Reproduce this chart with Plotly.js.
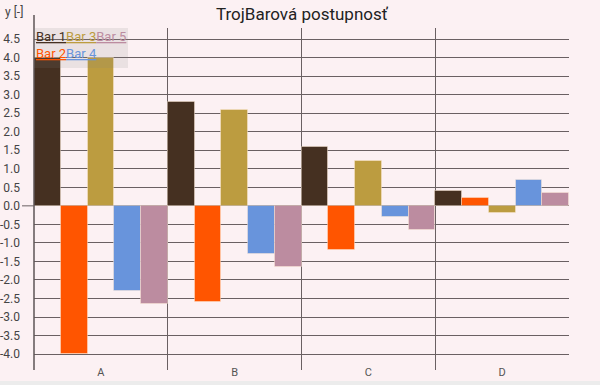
<!DOCTYPE html>
<html>
<head>
<meta charset="utf-8">
<script src="https://cdn.plot.ly/plotly-3.0.1.min.js"></script>
<style>
  html, body { margin: 0; padding: 0; background: #ececec; }
  #chart { width: 600px; height: 381px; }
</style>
</head>
<body>
<div id="chart"></div>
<script>
// ---- data ----
const categories = ["A", "B", "C", "D"];
const seriesNames = ["Bar 1", "Bar 2", "Bar 3", "Bar 4", "Bar 5"];
const bar1 = [4.0, 2.8, 1.6, 0.4];
const bar2 = [-4.0, -2.6, -1.2, 0.2];
const bar3 = [4.0, 2.6, 1.2, -0.2];
const bar4 = [-2.3, -1.3, -0.3, 0.7];
const bar5 = [-2.65, -1.65, -0.65, 0.35];
const yTickVals = [-4.0, -3.5, -3.0, -2.5, -2.0, -1.5, -1.0, -0.5, 0.0, 0.5, 1.0, 1.5, 2.0, 2.5, 3.0, 3.5, 4.0, 4.5];
const yTickText = ["-4.0", "-3.5", "-3.0", "-2.5", "-2.0", "-1.5", "-1.0", "-0.5", "0.0", "0.5", "1.0", "1.5", "2.0", "2.5", "3.0", "3.5", "4.0", "4.5"];
const titleText = "TrojBarová postupnosť";
const yAxisLabel = "y [-]";

// ---- styles ----
const colors = ["#453021", "#ff5500", "#bc9c40", "#6894dc", "#bc8ca0"];
const values = [bar1, bar2, bar3, bar4, bar5];
const gridColor = "#6a6062";
const bg = "#fcf1f3";

const traces = values.map((v, i) => ({
  type: "bar",
  name: seriesNames[i],
  x: categories,
  y: v,
  marker: { color: colors[i], line: { color: "rgba(255,235,215,0.45)", width: 1 } },
  hoverinfo: "x+y+name"
}));

function legendRow(idx) {
  return idx.map(i => `<span style="color:${colors[i]}"><u>${seriesNames[i]}</u></span>`).join("");
}

const layout = {
  width: 600,
  height: 381,
  margin: { l: 34, r: 31, t: 28, b: 11, pad: 0 },
  paper_bgcolor: bg,
  plot_bgcolor: bg,
  font: { family: "Roboto, sans-serif", color: "#444" },
  showlegend: false,
  barmode: "group",
  bargap: 0,
  bargroupgap: 0,
  title: {
    text: titleText,
    font: { family: "Roboto, sans-serif", size: 17, color: "#222" },
    x: 0.503, xref: "container", xanchor: "center",
    y: 0.962, yref: "container", yanchor: "middle"
  },
  xaxis: {
    type: "category",
    tickson: "boundaries",
    showgrid: true,
    gridcolor: gridColor,
    gridwidth: 1,
    ticks: "",
    showline: false,
    zeroline: false,
    tickfont: { family: "Roboto, sans-serif", size: 11, color: "#555" },
    ticklabelstandoff: -6
  },
  yaxis: {
    range: [-4.43, 4.8],
    tickmode: "array",
    tickvals: yTickVals,
    ticktext: yTickText,
    showgrid: true,
    gridcolor: gridColor,
    gridwidth: 1,
    zeroline: true,
    zerolinecolor: gridColor,
    zerolinewidth: 1,
    showline: false,
    ticks: "",
    ticklabelstandoff: 13,
    tickfont: { family: "Roboto, sans-serif", size: 12, color: "#444" }
  },
  shapes: [
    { type: "line", xref: "paper", yref: "paper", x0: 0, x1: 0, y0: 0, y1: 1.038,
      line: { color: "#5e5456", width: 1.5 }, layer: "above" },
    { type: "line", xref: "paper", yref: "y", x0: -0.0224, x1: 0, y0: 0, y1: 0,
      line: { color: gridColor, width: 1 } },
    { type: "rect", xref: "paper", yref: "paper", x0: 0, x1: 0.1757, y0: 0.883, y1: 1,
      fillcolor: "rgba(128,124,124,0.14)", line: { width: 0 }, layer: "above" }
  ],
  annotations: [
    { text: yAxisLabel, xref: "paper", yref: "paper", x: -0.058, y: 1.047,
      xanchor: "left", yanchor: "middle", showarrow: false,
      font: { family: "Roboto, sans-serif", size: 12, color: "#444" } },
    { text: legendRow([0, 2, 4]), xref: "paper", yref: "paper", x: 0, y: 0.975,
      xanchor: "left", yanchor: "middle", showarrow: false,
      font: { family: "Roboto, sans-serif", size: 13 } },
    { text: legendRow([1, 3]), xref: "paper", yref: "paper", x: 0, y: 0.925,
      xanchor: "left", yanchor: "middle", showarrow: false,
      font: { family: "Roboto, sans-serif", size: 13 } }
  ]
};

Plotly.newPlot("chart", traces, layout, { displayModeBar: false, responsive: false });
</script>
</body>
</html>
